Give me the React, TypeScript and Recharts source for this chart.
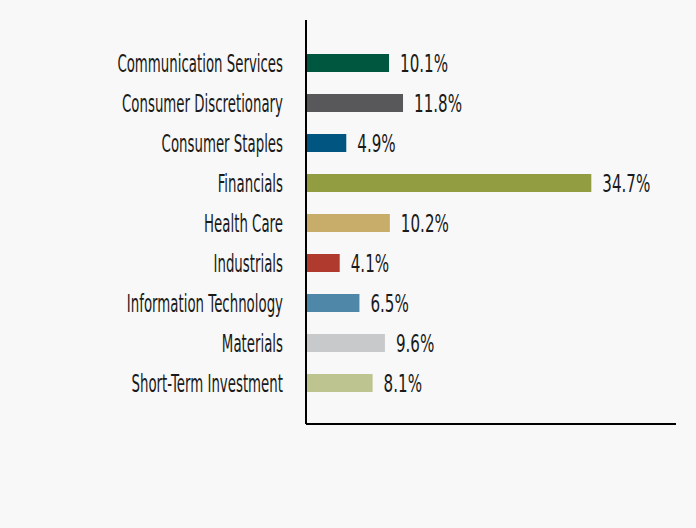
import React from "react"
import { BarChart, Bar, XAxis, YAxis, Cell, LabelList } from "recharts"

const sectors = [
  "Communication Services",
  "Consumer Discretionary",
  "Consumer Staples",
  "Financials",
  "Health Care",
  "Industrials",
  "Information Technology",
  "Materials",
  "Short-Term Investment",
]
const weights = [10.1, 11.8, 4.9, 34.7, 10.2, 4.1, 6.5, 9.6, 8.1]
const barColors = ["#00573f", "#58585a", "#005581", "#929c41", "#c8ad6a", "#b03a2e", "#4e87a8", "#c8c9cb", "#bdc48f"]

const data = sectors.map((name, i) => ({ name, value: weights[i] }))

const FONT = "'DejaVu Sans', sans-serif"

// condensed look: squeeze the glyphs horizontally
function SectorTick(props: any) {
  const { x, y, payload } = props
  return (
    <text
      transform={`translate(${x},${y + 1}) scale(0.556,1)`}
      textAnchor="end"
      dominantBaseline="central"
      fill="#1a1a1a"
      fontSize={24}
      fontFamily={FONT}
    >
      {payload.value}
    </text>
  )
}

function ValueLabel(props: any) {
  const { x, y, width, height, value } = props
  return (
    <text
      transform={`translate(${x + width + 11},${y + height / 2 + 1}) scale(0.63,1)`}
      textAnchor="start"
      dominantBaseline="central"
      fill="#1a1a1a"
      fontSize={24}
      fontFamily={FONT}
    >
      {`${value}%`}
    </text>
  )
}

export default function App() {
  return (
    <div style={{ position: "fixed", left: 0, top: 0, width: 696, height: 528, background: "#f8f8f8" }}>
      <BarChart
        width={696}
        height={528}
        data={data}
        layout="vertical"
        margin={{ top: 20, right: 20, bottom: 103, left: 0 }}
      >
        <XAxis
          type="number"
          domain={[0, 45]}
          tick={false}
          tickLine={false}
          height={1}
          axisLine={{ stroke: "#000", strokeWidth: 2 }}
        />
        <YAxis
          type="category"
          dataKey="name"
          width={306}
          tickLine={false}
          tickSize={0}
          tickMargin={23}
          padding={{ top: 23, bottom: 21 }}
          axisLine={{ stroke: "#000", strokeWidth: 2 }}
          tick={<SectorTick />}
        />
        <Bar dataKey="value" barSize={18} isAnimationActive={false}>
          {data.map((d, i) => (
            <Cell key={d.name} fill={barColors[i]} />
          ))}
          <LabelList dataKey="value" content={<ValueLabel />} />
        </Bar>
      </BarChart>
    </div>
  )
}
